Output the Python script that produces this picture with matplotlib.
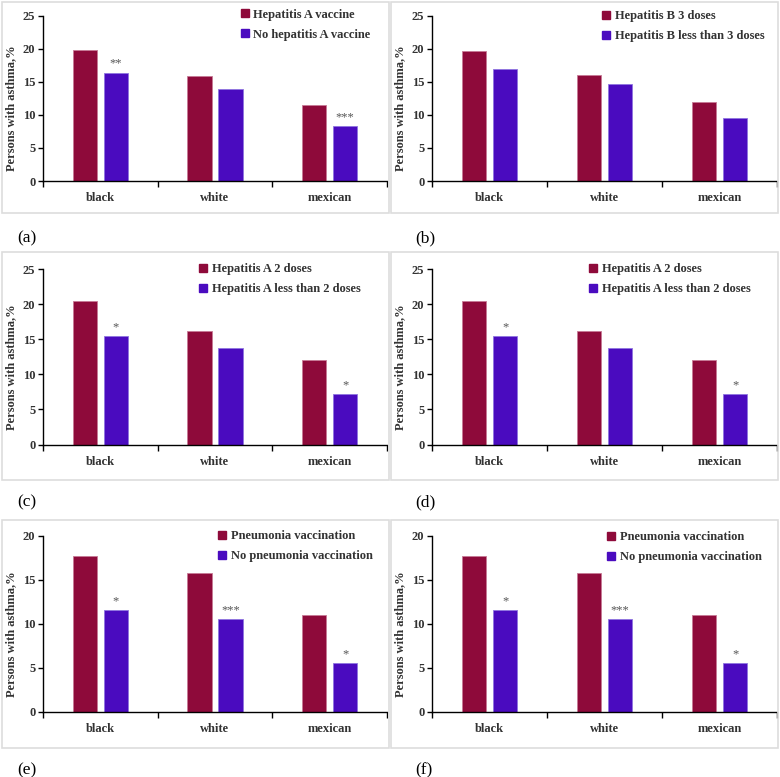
import matplotlib
matplotlib.use('Agg')
import matplotlib.pyplot as plt
from matplotlib.lines import Line2D
from matplotlib.patches import Rectangle

plt.rcParams['font.family'] = ['Liberation Serif', 'DejaVu Serif']

groups = ['black', 'white', 'mexican']

# panel data (vaccinated, not vaccinated)
hepa_vacc = [19.8, 15.9, 11.5]
hepa_none = [16.4, 13.9, 8.3]
hepb_3 = [19.7, 16.0, 11.9]
hepb_lt3 = [16.9, 14.6, 9.5]
hepa_2 = [20.4, 16.2, 12.0]
hepa_lt2 = [15.4, 13.8, 7.2]
pneu_vacc = [17.7, 15.8, 11.0]
pneu_none = [11.6, 10.6, 5.6]

stars_a = ['**', '', '***']
stars_b = ['', '', '']
stars_c = ['*', '', '*']
stars_e = ['*', '***', '*']

panels = [
    ('(a)', hepa_vacc, hepa_none, ['Hepatitis A vaccine', 'No hepatitis A vaccine'], stars_a, 25),
    ('(b)', hepb_3, hepb_lt3, ['Hepatitis B 3 doses', 'Hepatitis B less than 3 doses'], stars_b, 25),
    ('(c)', hepa_2, hepa_lt2, ['Hepatitis A 2 doses', 'Hepatitis A less than 2 doses'], stars_c, 25),
    ('(d)', hepa_2, hepa_lt2, ['Hepatitis A 2 doses', 'Hepatitis A less than 2 doses'], stars_c, 25),
    ('(e)', pneu_vacc, pneu_none, ['Pneumonia vaccination', 'No pneumonia vaccination'], stars_e, 20),
    ('(f)', pneu_vacc, pneu_none, ['Pneumonia vaccination', 'No pneumonia vaccination'], stars_e, 20),
]

RED = '#8E0A3A'
BLUE = '#4A0BBF'
TXT = '#333333'
W, H = 780, 777


def px(x0, y0, x1, y1):
    # pixel box (top-left origin) -> figure fraction rect
    return [x0 / W, 1 - y1 / H, (x1 - x0) / W, (y1 - y0) / H]


def main():
    fig = plt.figure(figsize=(7.8, 7.77), dpi=100)

    cols = [(43, 387), (432, 777)]
    rows = [(15.7, 181), (269, 444.5), (536, 712)]
    boxes_x = [(2, 389), (391, 778)]
    boxes_y = [(2, 213), (252.5, 480.5), (519.5, 747.5)]
    lab_x = [17, 415]
    lab_y = [238, 502, 770]
    # legend marker centre (x px) and first row centre (y px) per panel
    leg_pos = [(244.5, 15.7), (606, 17), (203, 270), (593, 270), (222, 537), (611, 538)]

    for i, (tag, v1, v2, names, stars, ymax) in enumerate(panels):
        r, c = divmod(i, 2)
        bx0, bx1 = boxes_x[c]
        by0, by1 = boxes_y[r]
        fig.patches.append(Rectangle((bx0 / W, 1 - by1 / H), (bx1 - bx0) / W, (by1 - by0) / H,
                                     transform=fig.transFigure, fill=False,
                                     edgecolor='#DDDDDD', linewidth=1.2))
        fig.text(lab_x[c] / W, 1 - lab_y[r] / H, tag, fontsize=12.5, va='center', ha='left')

        x0, x1 = cols[c]
        y0, y1 = rows[r]
        ax = fig.add_axes(px(x0, y0, x1, y1))
        xs = range(len(groups))
        off, bw = 0.135, 0.21
        ax.bar([x - off for x in xs], v1, bw, color=RED, edgecolor='#C77A95', linewidth=0.6)
        ax.bar([x + off for x in xs], v2, bw, color=BLUE, edgecolor='#8F75E0', linewidth=0.6)
        for x, v, s in zip(xs, v2, stars):
            if s:
                ax.annotate(s, (x + off, v), xytext=(0, 2), textcoords='offset points',
                            ha='center', va='bottom', fontsize=9, color='#555555')

        ax.set_xlim(-0.5, 2.5)
        ax.set_ylim(0, ymax)
        ax.set_yticks(range(0, ymax + 1, 5))
        ax.set_xticks(list(xs))
        ax.set_xticklabels(groups)
        ax.set_xticks([-0.5, 0.5, 1.5, 2.5], minor=True)
        ax.tick_params(axis='x', which='major', length=0, pad=8)
        ax.tick_params(axis='x', which='minor', length=4, width=1)
        ax.tick_params(axis='y', length=3.5, width=1, pad=2)
        for lab in ax.get_xticklabels() + ax.get_yticklabels():
            lab.set_fontweight('bold')
            lab.set_fontsize(9)
            lab.set_color(TXT)
        for sp in ['top', 'right']:
            ax.spines[sp].set_visible(False)
        for sp in ['left', 'bottom']:
            ax.spines[sp].set_linewidth(1)
        ax.set_ylabel('Persons with asthma,%', fontsize=9, fontweight='bold', color=TXT)
        ax.yaxis.set_label_coords(-0.075, 0.44)

        mk_x, row_y = leg_pos[i]
        ax_w = x1 - x0
        ax_h = y1 - y0
        handles = [Line2D([], [], marker='s', linestyle='none', markersize=6,
                          markerfacecolor=RED, markeredgecolor=RED),
                   Line2D([], [], marker='s', linestyle='none', markersize=6,
                          markerfacecolor=BLUE, markeredgecolor=BLUE)]
        leg = ax.legend(handles, names, loc='upper left', frameon=False,
                        bbox_to_anchor=((mk_x - x0 - 4.8) / ax_w, 1 + (y0 - row_y + 7) / ax_h),
                        borderpad=0, borderaxespad=0, handlelength=0.8,
                        handletextpad=0.3, labelspacing=0.65,
                        prop={'weight': 'bold', 'size': 9})
        for t in leg.get_texts():
            t.set_color(TXT)

    fig.savefig('out.png', dpi=100)


if __name__ == '__main__':
    main()
